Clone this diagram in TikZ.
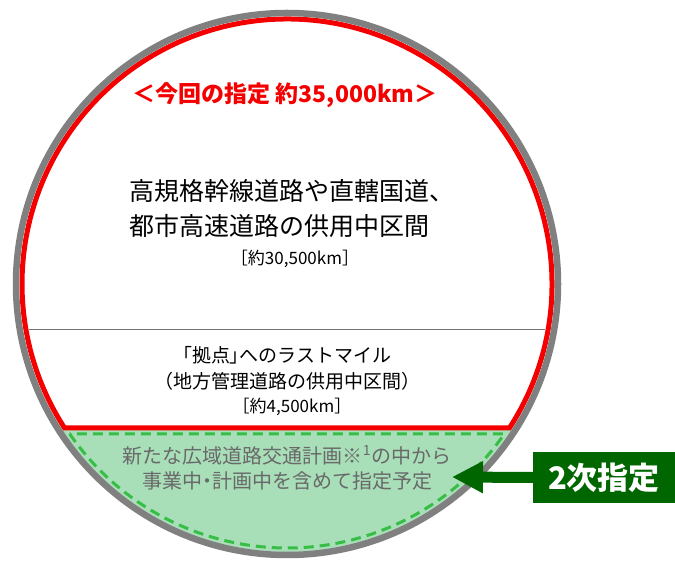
\documentclass[tikz,border=0pt]{standalone}
\usepackage{fontspec}
\setmainfont{Noto Sans CJK JP}
\usetikzlibrary{arrows.meta}
\definecolor{ringgrey}{RGB}{128,128,128}
\definecolor{zonered}{RGB}{245,0,0}
\definecolor{palegreen}{RGB}{168,222,184}
\definecolor{dashgreen}{RGB}{55,190,70}
\definecolor{darkgreen}{RGB}{0,102,0}
\definecolor{notegrey}{RGB}{105,105,105}
\tikzstyle{ring}=[draw=ringgrey, line width=6.5pt]
\tikzstyle{redzone}=[draw=zonered, line width=5pt, line join=miter]
\tikzstyle{greenzone}=[fill=palegreen]
\tikzstyle{greenedge}=[draw=dashgreen, line width=3pt, dash pattern=on 10pt off 6pt]
\tikzstyle{divider}=[draw=black!55, line width=0.8pt]
\tikzstyle{heading}=[text=zonered, inner sep=0pt, font=\fontsize{23}{27}\selectfont\bfseries]
\tikzstyle{body}=[align=center, text=black, inner sep=0pt]
\tikzstyle{note}=[align=center, text=notegrey, inner sep=0pt, font=\fontsize{20}{25}\selectfont]
\tikzstyle{tag}=[fill=darkgreen, text=white, minimum width=142pt, minimum height=50pt, font=\fontsize{31}{32}\selectfont\bfseries]
\tikzstyle{fatarrow}=[draw=darkgreen, line width=11pt, -{Triangle[length=31pt,width=30pt]}]
\newcommand{\ringX}{287}
\newcommand{\ringY}{276}
\newcommand{\rRing}{271}
\newcommand{\rRed}{265}
\newcommand{\prop}[1]{{\addfontfeature{RawFeature=+palt}#1}}

\begin{document}
\begin{tikzpicture}[x=1pt, y=1pt]
	\useasboundingbox[fill=white] (0,0) rectangle (675,560);
	\coordinate (c) at (\ringX,\ringY);
	
	%% green part (2nd designation)
	\begin{scope}
		\clip (c) circle (268);
		\fill[greenzone] (0,0) rectangle (675,129.5);
	\end{scope}
	\draw[greenedge] (c) ++(214.6:264) arc[start angle=214.6, end angle=325.4, radius=264] -- cycle;
	
	%% red part (this designation)
	\draw[redzone] (c) ++(-32.9:\rRed) arc[start angle=-32.9, end angle=212.9, radius=\rRed] -- cycle;
	\path (c) +(189.9:262) coordinate (divL) +(-9.9:262) coordinate (divR);
	\draw[divider] (divL) -- (divR);
	
	%% outer ring
	\draw[ring] (c) circle (\rRing);
	
	%% texts
	\node[heading] (title) at (285,465) {＜今回の指定 約35,000km＞};
	\node[body, align=left, font=\fontsize{25}{35}\selectfont] (trunk) at (292,351) {高規格幹線道路や直轄国道、\\都市高速道路の供用中区間};
	\node[body, font=\fontsize{17}{20}\selectfont] (trunkkm) at (295,301) {［約30,500km］};
	\node[body, font=\fontsize{19}{26}\selectfont] (last) at (287,192) {\prop{「拠点」}へのラストマイル\\（地方管理道路の供用中区間）};
	\node[body, font=\fontsize{17}{20}\selectfont] (lastkm) at (292,153) {［約4,500km］};
	\node[note] (plan) at (287,92) {新たな広域道路交通計画※\textsuperscript{1}の中から\\事業中\prop{・}計画中を含めて指定予定};
	
	%% tag and arrow
	\node[tag] (second) at (604,82.5) {2次指定};
	\coordinate (tip) at (452,83);
	\draw[fatarrow] (second.west) -- (tip);
\end{tikzpicture}
\end{document}
